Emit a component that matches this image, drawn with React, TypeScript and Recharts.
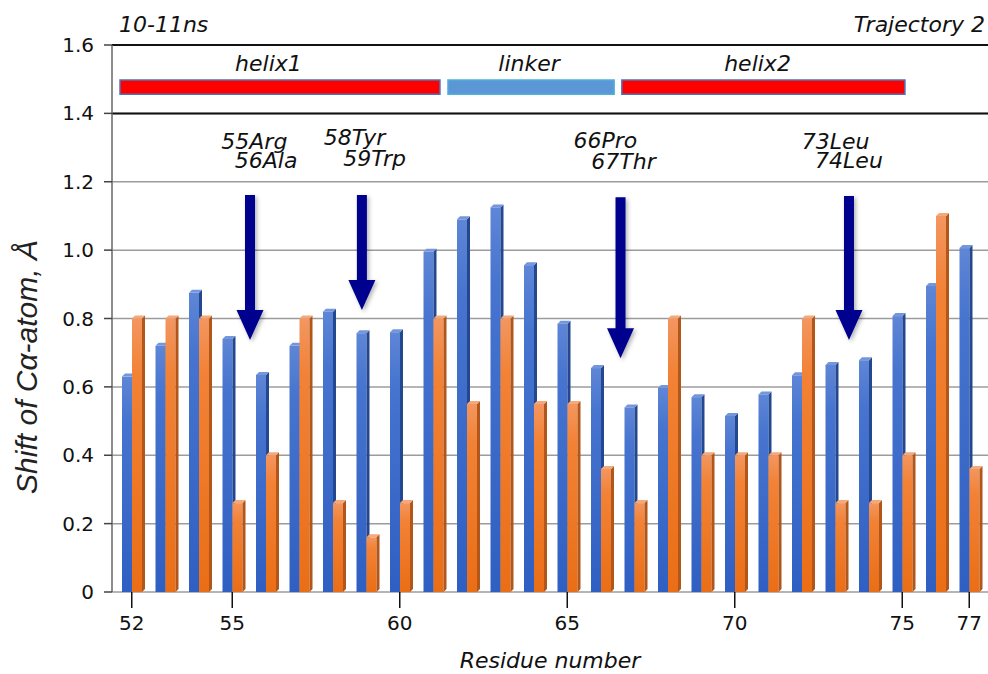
import React from 'react';
import {
  Bar,
  BarChart,
  CartesianGrid,
  ReferenceArea,
  ReferenceDot,
  ReferenceLine,
  XAxis,
  YAxis} from 'recharts';

// residue numbers on the x axis
const residues = [52, 53, 54, 55, 56, 57, 58, 59, 60, 61, 62, 63, 64, 65, 66, 67, 68, 69, 70, 71, 72, 73, 74, 75, 76, 77];
// shift of C-alpha atom, blue series
const blueShift = [0.63, 0.72, 0.875, 0.74, 0.635, 0.72, 0.82, 0.757, 0.76, 0.995, 1.09, 1.125, 0.956, 0.785, 0.655, 0.54, 0.597, 0.57, 0.515, 0.578, 0.634, 0.664, 0.678, 0.807, 0.895, 1.006];
// shift of C-alpha atom, orange series
const orangeShift = [0.8, 0.8, 0.8, 0.26, 0.4, 0.8, 0.26, 0.16, 0.26, 0.8, 0.55, 0.8, 0.55, 0.55, 0.36, 0.26, 0.8, 0.4, 0.4, 0.4, 0.8, 0.26, 0.26, 0.4, 1.1, 0.36];

const yTicks = [0, 0.2, 0.4, 0.6, 0.8, 1.0, 1.2, 1.4, 1.6];
const xTicks = [52, 55, 60, 65, 70, 75, 77];

// secondary structure along the sequence
const segments = [
  { name: 'helix1', from: 51.65, to: 61.2, kind: 'helix' },
  { name: 'linker', from: 61.44, to: 66.4, kind: 'linker' },
  { name: 'helix2', from: 66.63, to: 75.08, kind: 'helix' },
];
const segmentLabels = [
  { text: 'helix1', at: 56.08 },
  { text: 'linker', at: 63.86 },
  { text: 'helix2', at: 70.68 },
];

// marked residues
const arrows = [
  { at: 55.53, from: 1.161, to: 0.737 },
  { at: 58.87, from: 1.161, to: 0.825 },
  { at: 66.59, from: 1.155, to: 0.684 },
  { at: 73.41, from: 1.158, to: 0.737 },
];
const residueNotes = [
  { text: '55Arg', at: 55.66, level: 1.319 },
  { text: '56Ala', at: 56.01, level: 1.262 },
  { text: '58Tyr', at: 58.65, level: 1.331 },
  { text: '59Trp', at: 59.25, level: 1.269 },
  { text: '66Pro', at: 66.14, level: 1.322 },
  { text: '67Thr', at: 66.68, level: 1.261 },
  { text: '73Leu', at: 73.01, level: 1.32 },
  { text: '74Leu', at: 73.41, level: 1.264 },
];

const data = residues.map((r, i) => ({ residue: r, blue: blueShift[i], orange: orangeShift[i] }));

const FONT = '"DejaVu Sans", Verdana, sans-serif';
const labelStyle = { fontFamily: FONT, fontStyle: 'italic', fontSize: 22, fill: '#111' };

const Bar3D = (props: any) => {
  const { x, y, width, height, face, side, top } = props;
  if (!height || height <= 0) return null;
  const d = 3;
  return (
    <g>
      <rect x={x} y={y} width={width} height={height} fill={face} />
      <polygon
        points={`${x + width},${y} ${x + width + d},${y - d} ${x + width + d},${y + height - d} ${x + width},${y + height}`}
        fill={side}
      />
      <polygon points={`${x},${y} ${x + d},${y - d} ${x + width + d},${y - d} ${x + width},${y}`} fill={top} />
    </g>
  );
};

const Arrow = (props: any) => {
  const { x1, y1, y2 } = props;
  const x = x1;
  const headLen = 30;
  const pts = [
    [x - 5, y1],
    [x + 5, y1],
    [x + 5, y2 - headLen],
    [x + 13.5, y2 - headLen],
    [x, y2],
    [x - 13.5, y2 - headLen],
    [x - 5, y2 - headLen],
  ]
    .map((p) => p.join(','))
    .join(' ');
  return <polygon points={pts} fill="#00008f" filter="url(#arrowShadow)" />;
};

export default function App() {
  return (
    <div style={{ position: 'absolute', left: 0, top: 0, background: '#fff' }}>
      <BarChart
        width={988}
        height={674}
        data={data}
        margin={{ top: 45, right: 0, bottom: 0, left: 0 }}
        barSize={10}
        barGap={0}
      >
        <defs>
          <linearGradient id="gBlue" x1="0" y1="0" x2="0" y2="1">
            <stop offset="0%" stopColor="#5f86d6" />
            <stop offset="20%" stopColor="#4674cf" />
            <stop offset="100%" stopColor="#2f5fc2" />
          </linearGradient>
          <linearGradient id="gOrange" x1="0" y1="0" x2="0" y2="1">
            <stop offset="0%" stopColor="#f39660" />
            <stop offset="20%" stopColor="#f28236" />
            <stop offset="100%" stopColor="#ea6e16" />
          </linearGradient>
          <filter id="arrowShadow" x="-50%" y="-20%" width="200%" height="140%">
            <feDropShadow dx="2" dy="2" stdDeviation="2" floodColor="#000" floodOpacity="0.3" />
          </filter>
        </defs>
        <CartesianGrid vertical={false} stroke="#9c9c9c" strokeWidth={1.5} />
        <XAxis
          dataKey="residue"
          type="number"
          domain={[51.5, 77.5]}
          allowDataOverflow
          ticks={xTicks}
          interval={0}
          padding={{ left: 3, right: 2 }}
          height={82}
          axisLine={false}
          tickLine={{ stroke: '#111', strokeWidth: 1.5 }}
          tickSize={16}
          tickMargin={8}
          tick={{ fontFamily: FONT, fontSize: 20, fill: '#111' }}
          label={{ value: 'Residue number', position: 'insideBottom', offset: 6, style: labelStyle }}
        />
        <YAxis
          type="number"
          domain={[0, 1.6]}
          ticks={yTicks}
          width={112}
          axisLine={{ stroke: '#666', strokeWidth: 1.5 }}
          tickLine={{ stroke: '#444', strokeWidth: 1.5 }}
          tickSize={8}
          tickMargin={10}
          tick={{ fontFamily: FONT, fontSize: 20, fill: '#111' }}
          tickFormatter={(v: number) => (v === 0 ? '0' : v.toFixed(1))}
        />
        <ReferenceLine y={1.6} stroke="#111" strokeWidth={2} />
        <ReferenceLine y={1.4} stroke="#111" strokeWidth={2} />
        {segments.map((s) => (
          <ReferenceArea
            key={s.name}
            x1={s.from}
            x2={s.to}
            y1={1.456}
            y2={1.4975}
            fill={s.kind === 'helix' ? '#ff0000' : '#5b96d6'}
            fillOpacity={1}
            stroke={s.kind === 'helix' ? '#5070b8' : '#4fb0d8'}
            strokeWidth={1.5}
          />
        ))}
        {segmentLabels.map((l) => (
          <ReferenceDot
            key={l.text}
            x={l.at}
            y={1.547}
            r={0}
            fill="none"
            stroke="none"
            label={{ value: l.text, position: 'center', style: labelStyle }}
          />
        ))}
        <Bar
          dataKey="blue"
          isAnimationActive={false}
          shape={(p: any) => <Bar3D {...p} face="url(#gBlue)" side="#24488f" top="#7396dc" />}
        />
        <Bar
          dataKey="orange"
          isAnimationActive={false}
          shape={(p: any) => <Bar3D {...p} face="url(#gOrange)" side="#b2561a" top="#f5a878" />}
        />
        {arrows.map((a) => (
          <ReferenceLine
            key={a.at}
            segment={[
              { x: a.at, y: a.from },
              { x: a.at, y: a.to },
            ]}
            shape={Arrow}
          />
        ))}
        {residueNotes.map((n) => (
          <ReferenceDot
            key={n.text}
            x={n.at}
            y={n.level}
            r={0}
            fill="none"
            stroke="none"
            label={{ value: n.text, position: 'center', style: labelStyle }}
          />
        ))}
        <text x={119} y={32} style={labelStyle}>10-11ns</text>
        <text x={985} y={32} textAnchor="end" style={labelStyle}>Trajectory 2</text>
        <text
          x={26}
          y={367}
          transform="rotate(-90 26 367)"
          textAnchor="middle"
          dominantBaseline="central"
          style={{ fontFamily: '"Liberation Sans", Arial, sans-serif', fontStyle: 'italic', fontSize: 30, fill: '#222' }}
        >
          Shift of Cα-atom, Å
        </text>
      </BarChart>
    </div>
  );
}
